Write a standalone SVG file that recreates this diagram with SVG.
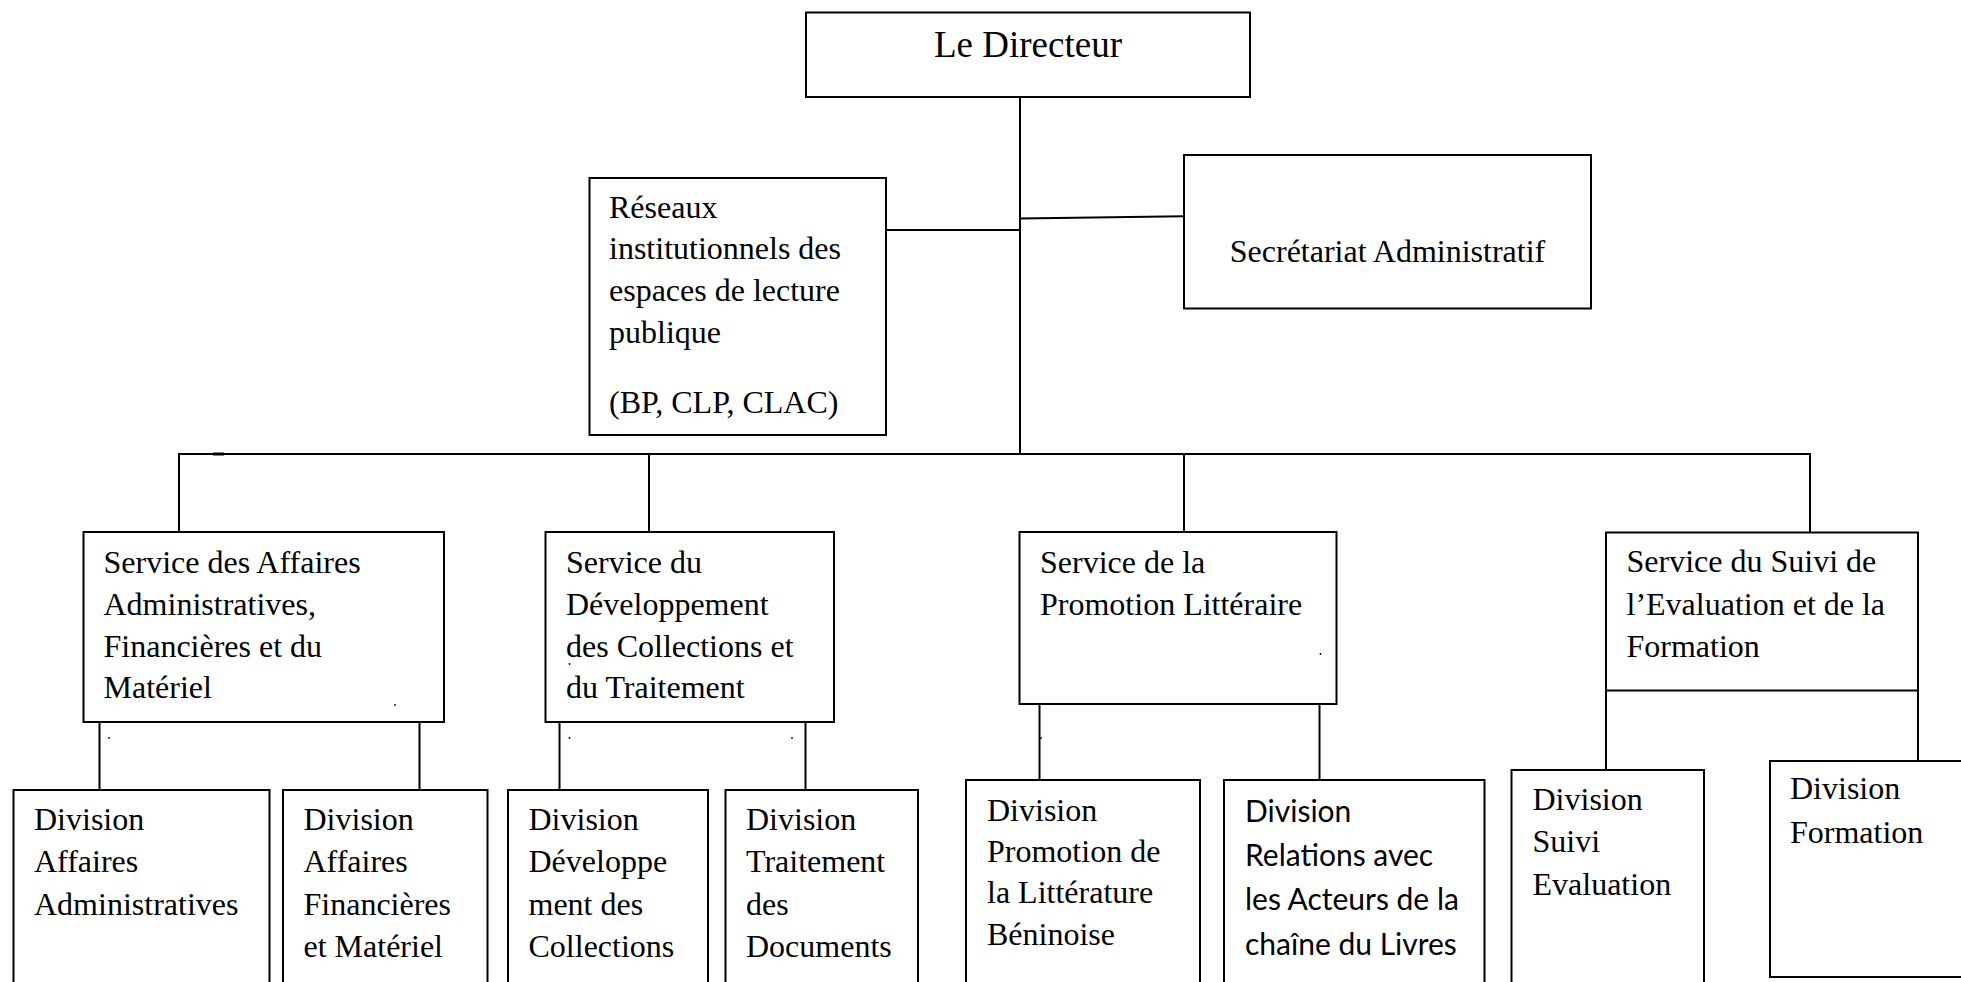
<svg xmlns="http://www.w3.org/2000/svg" width="1961" height="982" viewBox="0 0 1961 982">
<style>
.box{fill:#fff;stroke:#000;stroke-width:2}
.ln{stroke:#000;stroke-width:2;fill:none}
.t{font-family:"Liberation Serif","Times New Roman",serif;font-size:32px;fill:#000}
.s{font-family:Lato,"Liberation Sans",sans-serif;font-size:30px;fill:#000}
.dot{fill:#000}
</style>
<rect width="1961" height="982" fill="#fff"/>
<g id="connectors">
<line class="ln" x1="1020" y1="97" x2="1020" y2="454"/>
<line class="ln" x1="886" y1="230" x2="1020" y2="230"/>
<line class="ln" x1="1020" y1="218.5" x2="1184" y2="216.3"/>
<polyline class="ln" points="179,532 179,454 1810,454 1810,532"/>
<line x1="213" y1="454" x2="224" y2="454" stroke="#000" stroke-width="3"/>
<line class="ln" x1="649" y1="454" x2="649" y2="532"/>
<line class="ln" x1="1184" y1="454" x2="1184" y2="532"/>
<line class="ln" x1="99.5" y1="722" x2="99.5" y2="790"/>
<line class="ln" x1="419.5" y1="722" x2="419.5" y2="790"/>
<line class="ln" x1="559.5" y1="722" x2="559.5" y2="790"/>
<line class="ln" x1="805.5" y1="722" x2="805.5" y2="790"/>
<line class="ln" x1="1039.5" y1="704" x2="1039.5" y2="780"/>
<line class="ln" x1="1319.5" y1="704" x2="1319.5" y2="780"/>
<line class="ln" x1="1606" y1="690.5" x2="1606" y2="770"/>
<line class="ln" x1="1918" y1="690.5" x2="1918" y2="761"/>
</g>
<g id="directeur">
<rect class="box" x="806" y="12.5" width="444" height="84.5"/>
<text class="t" x="1028" y="57" text-anchor="middle" style="font-size:37px">Le Directeur</text>
</g>
<g id="reseaux">
<rect class="box" x="589.5" y="178" width="296.5" height="257"/>
<text class="t" x="609"><tspan x="609" y="218">Réseaux</tspan><tspan x="609" y="259">institutionnels des</tspan><tspan x="609" y="301">espaces de lecture</tspan><tspan x="609" y="343">publique</tspan><tspan x="609" y="413">(BP, CLP, CLAC)</tspan></text>
</g>
<g id="secretariat">
<rect class="box" x="1184" y="155" width="407" height="153.5"/>
<text class="t" x="1387.5" y="262" text-anchor="middle">Secrétariat Administratif</text>
</g>
<g id="service-affaires">
<rect class="box" x="83.5" y="532" width="360.5" height="190"/>
<text class="t"><tspan x="103.5" y="573">Service des Affaires</tspan><tspan x="103.5" y="615">Administratives,</tspan><tspan x="103.5" y="657">Financières et du</tspan><tspan x="103.5" y="698">Matériel</tspan></text>
<circle class="dot" cx="395" cy="705" r="0.9"/>
</g>
<g id="service-developpement">
<rect class="box" x="545.5" y="532" width="288.5" height="190"/>
<text class="t"><tspan x="566" y="573">Service du</tspan><tspan x="566" y="615">Développement</tspan><tspan x="566" y="657">des Collections et</tspan><tspan x="566" y="698">du Traitement</tspan></text>
<circle class="dot" cx="569.5" cy="664" r="0.9"/>
</g>
<g id="service-promotion">
<rect class="box" x="1019.5" y="532" width="317" height="172"/>
<text class="t"><tspan x="1040" y="573">Service de la</tspan><tspan x="1040" y="615">Promotion Littéraire</tspan></text>
<circle class="dot" cx="1320.5" cy="654" r="0.9"/>
</g>
<g id="service-suivi">
<rect class="box" x="1606" y="532.5" width="312" height="158"/>
<text class="t"><tspan x="1626.5" y="572">Service du Suivi de</tspan><tspan x="1626.5" y="614.5">l’Evaluation et de la</tspan><tspan x="1626.5" y="656.5">Formation</tspan></text>
</g>
<g id="dots">
<circle class="dot" cx="109" cy="738" r="0.9"/>
<circle class="dot" cx="569.5" cy="738" r="0.9"/>
<circle class="dot" cx="792" cy="738" r="0.9"/>
<circle class="dot" cx="1041" cy="738" r="0.9"/>
</g>
<g id="div-affaires-admin">
<polyline class="ln" points="13.5,990 13.5,790 269.5,790 269.5,990"/>
<text class="t"><tspan x="34" y="830">Division</tspan><tspan x="34" y="872">Affaires</tspan><tspan x="34" y="915">Administratives</tspan></text>
</g>
<g id="div-affaires-fin">
<polyline class="ln" points="283,990 283,790 487.5,790 487.5,990"/>
<text class="t"><tspan x="303.5" y="830">Division</tspan><tspan x="303.5" y="872">Affaires</tspan><tspan x="303.5" y="915">Financières</tspan><tspan x="303.5" y="957">et Matériel</tspan></text>
</g>
<g id="div-developpement">
<polyline class="ln" points="508,990 508,790 708,790 708,990"/>
<text class="t"><tspan x="528.5" y="830">Division</tspan><tspan x="528.5" y="872">Développe</tspan><tspan x="528.5" y="915">ment des</tspan><tspan x="528.5" y="957">Collections</tspan></text>
</g>
<g id="div-traitement">
<polyline class="ln" points="725.5,990 725.5,790 918,790 918,990"/>
<text class="t"><tspan x="746" y="830">Division</tspan><tspan x="746" y="872">Traitement</tspan><tspan x="746" y="915">des</tspan><tspan x="746" y="957">Documents</tspan></text>
</g>
<g id="div-promotion">
<polyline class="ln" points="966,990 966,780 1200,780 1200,990"/>
<text class="t"><tspan x="987" y="821">Division</tspan><tspan x="987" y="862">Promotion de</tspan><tspan x="987" y="903">la Littérature</tspan><tspan x="987" y="945">Béninoise</tspan></text>
</g>
<g id="div-relations">
<polyline class="ln" points="1224,990 1224,780 1484.5,780 1484.5,990"/>
<text class="s"><tspan x="1245" y="821.5">Division</tspan><tspan x="1245" y="866">Relations avec</tspan><tspan x="1245" y="910">les Acteurs de la</tspan><tspan x="1245" y="955">chaîne du Livres</tspan></text>
</g>
<g id="div-suivi">
<polyline class="ln" points="1511.5,990 1511.5,770 1704,770 1704,990"/>
<text class="t"><tspan x="1532.5" y="810">Division</tspan><tspan x="1532.5" y="852">Suivi</tspan><tspan x="1532.5" y="895">Evaluation</tspan></text>
</g>
<g id="div-formation">
<polyline class="ln" points="1970,761 1770,761 1770,977 1970,977"/>
<text class="t"><tspan x="1790" y="799">Division</tspan><tspan x="1790" y="843">Formation</tspan></text>
</g>
</svg>
